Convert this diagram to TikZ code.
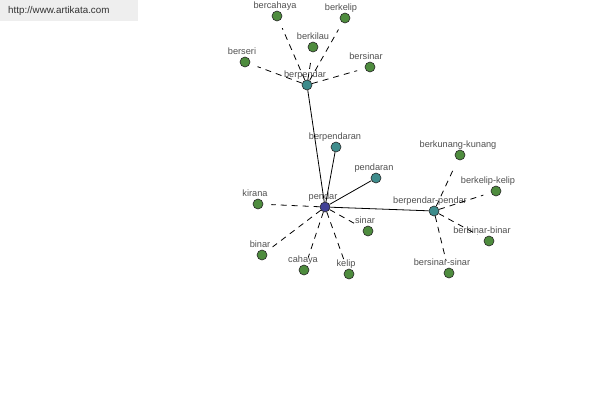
\documentclass[tikz,border=0pt]{standalone}
\usepackage{fontspec}
\setmainfont{Liberation Sans}
\definecolor{leafc}{RGB}{78,140,62}
\definecolor{hubc}{RGB}{62,140,140}
\definecolor{rootc}{RGB}{66,66,150}
\definecolor{lblc}{RGB}{80,80,80}
\definecolor{wmbg}{RGB}{238,238,238}
\definecolor{wmtext}{RGB}{50,50,50}
\tikzset{
  vbase/.style={circle, draw=black!85, minimum size=10pt, inner sep=0pt, line width=0.6pt},
  leaf/.style={vbase, fill=leafc},
  hub/.style={vbase, fill=hubc},
  root/.style={vbase, fill=rootc},
  lbl/.style={anchor=base, inner sep=0pt, text=lblc, font=\fontsize{9.2}{11}\selectfont},
  solidedge/.style={draw=black, line width=0.8pt},
  dashedge/.style={draw=black, line width=0.8pt, dash pattern=on 6pt off 5pt, shorten >=8pt}
}
\newcommand\vx[6]{\node[#4] (#1) at (#2,#3) {}; \node[lbl] (#1-l) at (#2+#6,#3-8) {#5};}
\begin{document}
\begin{tikzpicture}[x=1pt,y=-1pt]
\useasboundingbox (0,0) rectangle (600,400);
\fill[wmbg] (0,0) rectangle (138,21);
\node[anchor=west, inner sep=0pt, text=wmtext, font=\fontsize{9.8}{11}\selectfont] (wm) at (8,11) {http://www.artikata.com};
% top cluster
\vx{berpendar}{307}{85}{hub}{berpendar}{-2}
\vx{bercahaya}{277}{16}{leaf}{bercahaya}{-2}
\vx{berkelip}{345}{18}{leaf}{berkelip}{-4}
\vx{berkilau}{313}{47}{leaf}{berkilau}{0}
\vx{berseri}{245}{62}{leaf}{berseri}{-3}
\vx{bersinar}{370}{67}{leaf}{bersinar}{-4}
% centre
\vx{pendar}{325}{207}{root}{pendar}{-2}
\vx{berpendaran}{336}{147}{hub}{berpendaran}{-1}
\vx{pendaran}{376}{178}{hub}{pendaran}{-2}
\vx{kirana}{258}{204}{leaf}{kirana}{-3}
\vx{sinar}{368}{231}{leaf}{sinar}{-3}
\vx{binar}{262}{255}{leaf}{binar}{-2}
\vx{cahaya}{304}{270}{leaf}{cahaya}{-1}
\vx{kelip}{349}{274}{leaf}{kelip}{-3}
% right cluster
\vx{bpp}{434}{211}{hub}{berpendar-pendar}{-4}
\vx{berkunang}{460}{155}{leaf}{berkunang-kunang}{-2}
\vx{berkelipkelip}{496}{191}{leaf}{berkelip-kelip}{-8}
\vx{berbinar}{489}{241}{leaf}{berbinar-binar}{-7}
\vx{bersinarsinar}{449}{273}{leaf}{bersinar-sinar}{-7}
% edges
\draw[solidedge] (pendar) -- (berpendar);
\draw[solidedge] (pendar) -- (berpendaran);
\draw[solidedge] (pendar) -- (pendaran);
\draw[solidedge] (pendar) -- (bpp);
\foreach \t in {bercahaya,berkelip,berkilau,berseri,bersinar}
  \draw[dashedge] (berpendar) -- (\t);
\foreach \t in {kirana,sinar,binar,cahaya,kelip}
  \draw[dashedge] (pendar) -- (\t);
\foreach \t in {berkunang,berkelipkelip,berbinar,bersinarsinar}
  \draw[dashedge] (bpp) -- (\t);
\end{tikzpicture}
\end{document}
